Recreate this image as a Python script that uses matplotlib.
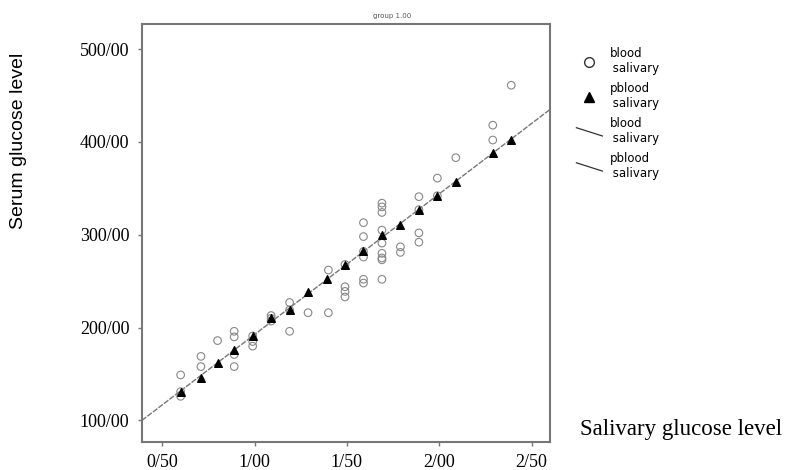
import numpy as np
import matplotlib
matplotlib.use('Agg')
import matplotlib.pyplot as plt
from matplotlib.lines import Line2D
from matplotlib.legend_handler import HandlerBase

# observed (blood vs salivary) points
obs_x = [0.60, 0.60, 0.60, 0.71, 0.71, 0.80, 0.89, 0.89, 0.89, 0.89,
         0.99, 0.99, 0.99, 1.09, 1.09, 1.09, 1.19, 1.19, 1.19, 1.29,
         1.40, 1.40, 1.49, 1.49, 1.49, 1.49, 1.59, 1.59, 1.59, 1.59,
         1.59, 1.59, 1.69, 1.69, 1.69, 1.69, 1.69, 1.69, 1.69, 1.69,
         1.69, 1.79, 1.79, 1.89, 1.89, 1.89, 1.89, 1.99, 1.99, 2.09,
         2.29, 2.29, 2.39]
obs_y = [149, 126, 131, 169, 158, 186, 196, 190, 171, 158,
         180, 185, 191, 210, 207, 213, 227, 196, 219, 216,
         216, 262, 244, 233, 239, 268, 252, 248, 313, 298,
         276, 282, 252, 280, 275, 334, 330, 324, 305, 291,
         273, 281, 287, 341, 302, 292, 327, 361, 342, 383,
         402, 418, 461]

# predicted values (triangles)
pred_x = [0.60, 0.71, 0.80, 0.89, 0.99, 1.09, 1.19, 1.29, 1.39, 1.49,
          1.59, 1.69, 1.79, 1.89, 1.99, 2.09, 2.29, 2.39]
pred_y = [131, 146, 162, 176, 191, 210, 219, 238, 252, 267,
          282, 300, 311, 327, 342, 357, 388, 402]

xticks = [0.5, 1.0, 1.5, 2.0, 2.5]
xticklabels = ['0/50', '1/00', '1/50', '2/00', '2/50']
yticks = [100, 200, 300, 400, 500]
yticklabels = ['100/00', '200/00', '300/00', '400/00', '500/00']


class SlantHandler(HandlerBase):
    def create_artists(self, legend, orig_handle, xdescent, ydescent,
                       width, height, fontsize, trans):
        ln = Line2D([0, width], [height * 1.0, height * 0.0],
                    color='#333333', lw=0.9, transform=trans)
        return [ln]


serif = 'Liberation Serif'
fig = plt.figure(figsize=(7.88, 4.70), dpi=100)
ax = fig.add_axes([0.180, 0.060, 0.518, 0.889])

xlim = (0.39, 2.60)
ax.set_xlim(xlim)
ax.set_ylim(77, 527)

coef = np.polyfit(pred_x, pred_y, 1)
lx = np.array(xlim)
ax.plot(lx, np.polyval(coef, lx), color='#777777', lw=1.0, ls=(0, (4, 1)), zorder=1)

ax.scatter(obs_x, obs_y, s=30, facecolors='none', edgecolors='#888888',
           linewidths=0.8, zorder=2)
ax.scatter(pred_x, pred_y, s=30, marker='^', color='black', zorder=3)

ax.set_xticks(xticks)
ax.set_xticklabels(xticklabels, fontfamily=serif, fontsize=13)
ax.set_yticks(yticks)
ax.set_yticklabels(yticklabels, fontfamily=serif, fontsize=13)
ax.tick_params(direction='out', length=3, width=1, color='#777777', pad=6)
for sp in ax.spines.values():
    sp.set_color('#777777')
    sp.set_linewidth(1.5)

fig.text(19 / 788, 1 - 141 / 470, 'Serum glucose level', rotation=90, va='center',
         ha='center', fontfamily='Liberation Sans', fontsize=14)
fig.text(580 / 788, 1 - 430 / 470, 'Salivary glucose level', va='center', ha='left',
         fontfamily=serif, fontsize=16.5)
fig.text(392 / 788, 1 - 16 / 470, 'group 1.00', ha='center', va='center',
         fontsize=5, color='#555555')

handles = [
    Line2D([], [], ls='none', marker='o', mfc='none', mec='#333333', ms=7),
    Line2D([], [], ls='none', marker='^', color='black', ms=7),
    Line2D([], [], color='#333333'),
    Line2D([], [], color='#333333'),
]
labels = ['blood\n salivary', 'pblood\n salivary', 'blood\n salivary', 'pblood\n salivary']
fig.legend(handles, labels, loc='upper left', bbox_to_anchor=(0.718, 0.923),
           frameon=False, fontsize=8.5, handlelength=2.2, labelspacing=0.6,
           handletextpad=0.6,
           handler_map={handles[2]: SlantHandler(), handles[3]: SlantHandler()})

fig.savefig('out.png', dpi=100)
